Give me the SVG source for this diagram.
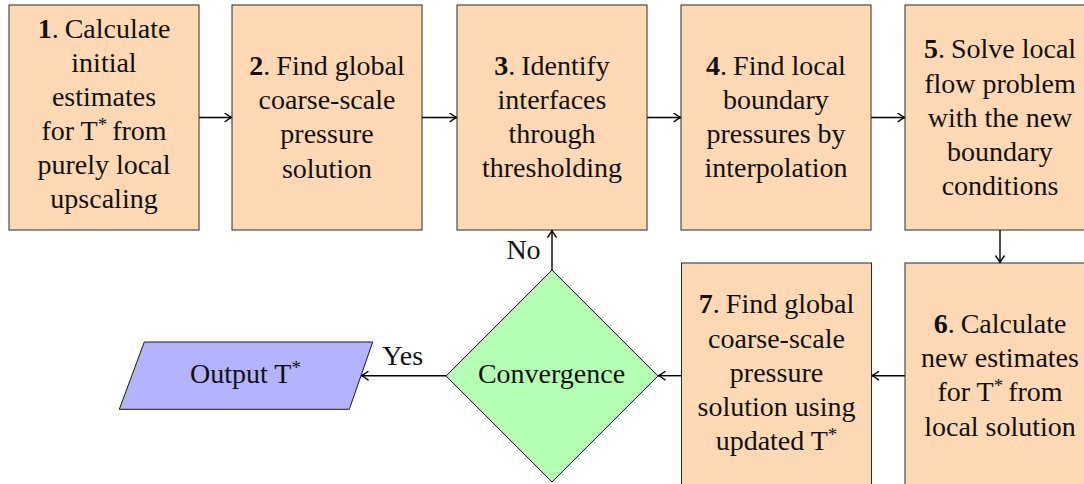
<svg xmlns="http://www.w3.org/2000/svg" width="1084" height="484" viewBox="0 0 1084 484">
  <style>
    .step { fill: #FFD9B3; stroke: #2a2a2a; stroke-width: 1; }
    .decision { fill: #B3FFB3; stroke: #1a1a1a; stroke-width: 1; }
    .io { fill: #B3B3FF; stroke: #1a1a1a; stroke-width: 1; }
    text { font-family: 'Times New Roman', 'Liberation Serif', Tinos, 'Nimbus Roman', Times, serif; font-size: 28px; fill: #111; text-anchor: middle; }
    .num { font-weight: bold; }
    .sup { font-size: 19px; }
    .edge { stroke: #000; stroke-width: 1.4; fill: none; marker-end: url(#tip); }
  </style>
  <defs>
    <marker id="tip" viewBox="-8 -5 10 10" markerWidth="10" markerHeight="10" refX="0" refY="0" orient="auto" markerUnits="userSpaceOnUse">
      <path d="M -6.5 -4.2 Q -2.5 -1.2 0 0 Q -2.5 1.2 -6.5 4.2" fill="none" stroke="#000" stroke-width="1.4" stroke-linecap="round" stroke-linejoin="round"/>
    </marker>
  </defs>

  <!-- step 1 -->
  <g id="step1">
    <rect class="step" x="9" y="5" width="190" height="225"/>
    <text x="104" y="38.3"><tspan class="num">1</tspan>.<tspan dx="6">Calculate</tspan></text>
    <text x="104" y="72.2">initial</text>
    <text x="104" y="106.2">estimates</text>
    <text x="104" y="140.1">for T<tspan class="sup" dy="-9">*</tspan><tspan dy="9" dx="5">from</tspan></text>
    <text x="104" y="174.1">purely local</text>
    <text x="104" y="208">upscaling</text>
  </g>

  <!-- step 2 -->
  <g id="step2">
    <rect class="step" x="232" y="5" width="190" height="225"/>
    <text x="327" y="75"><tspan class="num">2</tspan>.<tspan dx="6">Find global</tspan></text>
    <text x="327" y="109.2">coarse-scale</text>
    <text x="327" y="143.4">pressure</text>
    <text x="327" y="177.6">solution</text>
  </g>

  <!-- step 3 -->
  <g id="step3">
    <rect class="step" x="457" y="5" width="190" height="225"/>
    <text x="552" y="74.5"><tspan class="num">3</tspan>.<tspan dx="6">Identify</tspan></text>
    <text x="552" y="108.7">interfaces</text>
    <text x="552" y="142.9">through</text>
    <text x="552" y="177.1">thresholding</text>
  </g>

  <!-- step 4 -->
  <g id="step4">
    <rect class="step" x="681" y="5" width="190" height="225"/>
    <text x="776" y="74.5"><tspan class="num">4</tspan>.<tspan dx="6">Find local</tspan></text>
    <text x="776" y="108.7">boundary</text>
    <text x="776" y="142.9">pressures by</text>
    <text x="776" y="177.1">interpolation</text>
  </g>

  <!-- step 5 -->
  <g id="step5">
    <rect class="step" x="905" y="5" width="190" height="225"/>
    <text x="1000" y="58.3"><tspan class="num">5</tspan>.<tspan dx="6">Solve local</tspan></text>
    <text x="1000" y="92.5">flow problem</text>
    <text x="1000" y="126.7">with the new</text>
    <text x="1000" y="160.9">boundary</text>
    <text x="1000" y="195.1">conditions</text>
  </g>

  <!-- step 6 -->
  <g id="step6">
    <rect class="step" x="905" y="263" width="190" height="225"/>
    <text x="1000" y="333"><tspan class="num">6</tspan>.<tspan dx="6">Calculate</tspan></text>
    <text x="1000" y="367.2">new estimates</text>
    <text x="1000" y="401.4">for T<tspan class="sup" dy="-9">*</tspan><tspan dy="9" dx="5">from</tspan></text>
    <text x="1000" y="435.6">local solution</text>
  </g>

  <!-- step 7 -->
  <g id="step7">
    <rect class="step" x="681.5" y="263" width="190" height="225"/>
    <text x="776.5" y="313.3"><tspan class="num">7</tspan>.<tspan dx="6">Find global</tspan></text>
    <text x="776.5" y="347.5">coarse-scale</text>
    <text x="776.5" y="381.7">pressure</text>
    <text x="776.5" y="415.9">solution using</text>
    <text x="776.5" y="450.1">updated T<tspan class="sup" dy="-9">*</tspan></text>
  </g>

  <!-- convergence test -->
  <g id="convergence">
    <polygon class="decision" points="552,270 658,376 552,482 446,376"/>
    <text x="551.5" y="382.7">Convergence</text>
  </g>

  <!-- final output -->
  <g id="output">
    <polygon class="io" points="144.3,342 372.7,342 349.3,409.3 119.3,409.3"/>
    <text x="245.5" y="383.3">Output T<tspan class="sup" dy="-9">*</tspan></text>
  </g>

  <!-- connectors -->
  <g id="connectors">
    <line class="edge" x1="199" y1="117.5" x2="231.5" y2="117.5"/>
    <line class="edge" x1="422" y1="117.5" x2="456.5" y2="117.5"/>
    <line class="edge" x1="647" y1="117.5" x2="680.5" y2="117.5"/>
    <line class="edge" x1="871" y1="117.5" x2="904.5" y2="117.5"/>
    <line class="edge" x1="1000" y1="230" x2="1000" y2="262.5"/>
    <line class="edge" x1="905" y1="375.7" x2="872" y2="375.7"/>
    <line class="edge" x1="681.5" y1="375.7" x2="658.5" y2="375.7"/>
    <line class="edge" x1="552" y1="270" x2="552" y2="230.5"/>
    <line class="edge" x1="446" y1="375.7" x2="361.5" y2="375.7"/>
    <text x="523.5" y="259.3">No</text>
    <text x="402.7" y="365">Yes</text>
  </g>
</svg>
